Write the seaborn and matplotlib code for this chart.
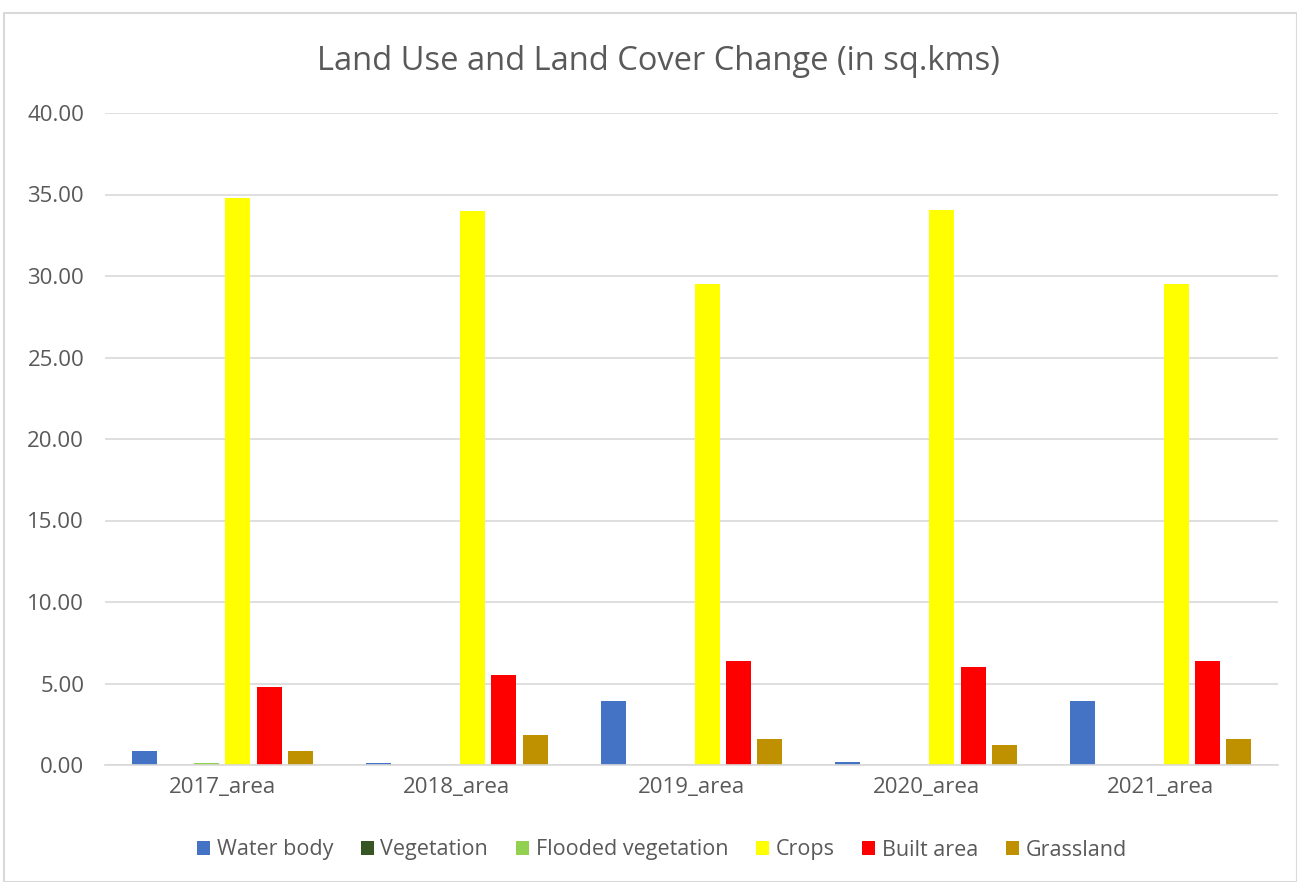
import matplotlib
matplotlib.use("Agg")
import matplotlib.pyplot as plt
import seaborn as sns
import pandas as pd
from matplotlib.patches import Rectangle

years = ["2017_area", "2018_area", "2019_area", "2020_area", "2021_area"]
classes = ["Water body", "Vegetation", "Flooded vegetation", "Crops", "Built area", "Grassland"]
water_body = [0.87, 0.14, 3.95, 0.20, 3.95]
vegetation = [0.0, 0.0, 0.0, 0.0, 0.0]
flooded_vegetation = [0.12, 0.0, 0.0, 0.0, 0.0]
crops = [34.8, 34.0, 29.5, 34.05, 29.5]
built_area = [4.8, 5.5, 6.4, 6.0, 6.4]
grassland = [0.87, 1.84, 1.57, 1.2, 1.57]
colors = ["#4472C4", "#375623", "#92D050", "#FFFF00", "#FF0000", "#BF9000"]

series = [water_body, vegetation, flooded_vegetation, crops, built_area, grassland]
rows = []
for cls, vals in zip(classes, series):
    for y, v in zip(years, vals):
        rows.append({"Year": y, "Class": cls, "Area": v})
df = pd.DataFrame(rows)

sns.set_theme(style="white")
plt.rcParams["font.family"] = ["Open Sans", "DejaVu Sans"]

fig = plt.figure(figsize=(12.97, 8.82), dpi=100)
ax = fig.add_axes([105/1297, 1 - 765/882, (1278-105)/1297, (765-113)/882])

sns.barplot(data=df, x="Year", y="Area", hue="Class", order=years, hue_order=classes,
            palette=colors, width=0.8, gap=0.2, ax=ax, saturation=1, errorbar=None,
            linewidth=0)

ax.set_ylim(0, 40)
ax.set_yticks(range(0, 41, 5))
ax.set_yticklabels([f"{v:.2f}" for v in range(0, 41, 5)], fontsize=16, color="#595959")
ax.tick_params(axis="x", labelsize=16, colors="#595959", length=0, pad=9)
ax.tick_params(axis="y", length=0, pad=15)
ax.grid(axis="y", color="#d9d9d9", linewidth=1.2)
ax.set_axisbelow(True)
for s in ["top", "right", "left"]:
    ax.spines[s].set_visible(False)
ax.spines["bottom"].set_color("#d9d9d9")
ax.spines["bottom"].set_linewidth(1.2)
ax.set_xlabel("")
ax.set_ylabel("")

fig.text(658/1297, 1 - 61/882, "Land Use and Land Cover Change (in sq.kms)", ha="center", va="center",
         fontsize=23.5, color="#595959")

handles, labels = ax.get_legend_handles_labels()
ax.legend(handles, labels, loc="center", bbox_to_anchor=(662/1297, 1 - 850/882), bbox_transform=fig.transFigure,
          ncol=6, frameon=False, fontsize=15.5, handlelength=0.6, handleheight=0.6,
          handletextpad=0.3, columnspacing=1.3, labelcolor="#595959")

fig.patches.append(Rectangle((4/1297, 0), 1 - 4/1297, 1 - 13/882, transform=fig.transFigure,
                             fill=False, edgecolor="#d9d9d9", linewidth=1.5))

fig.savefig("out.png", dpi=100, facecolor="white")
